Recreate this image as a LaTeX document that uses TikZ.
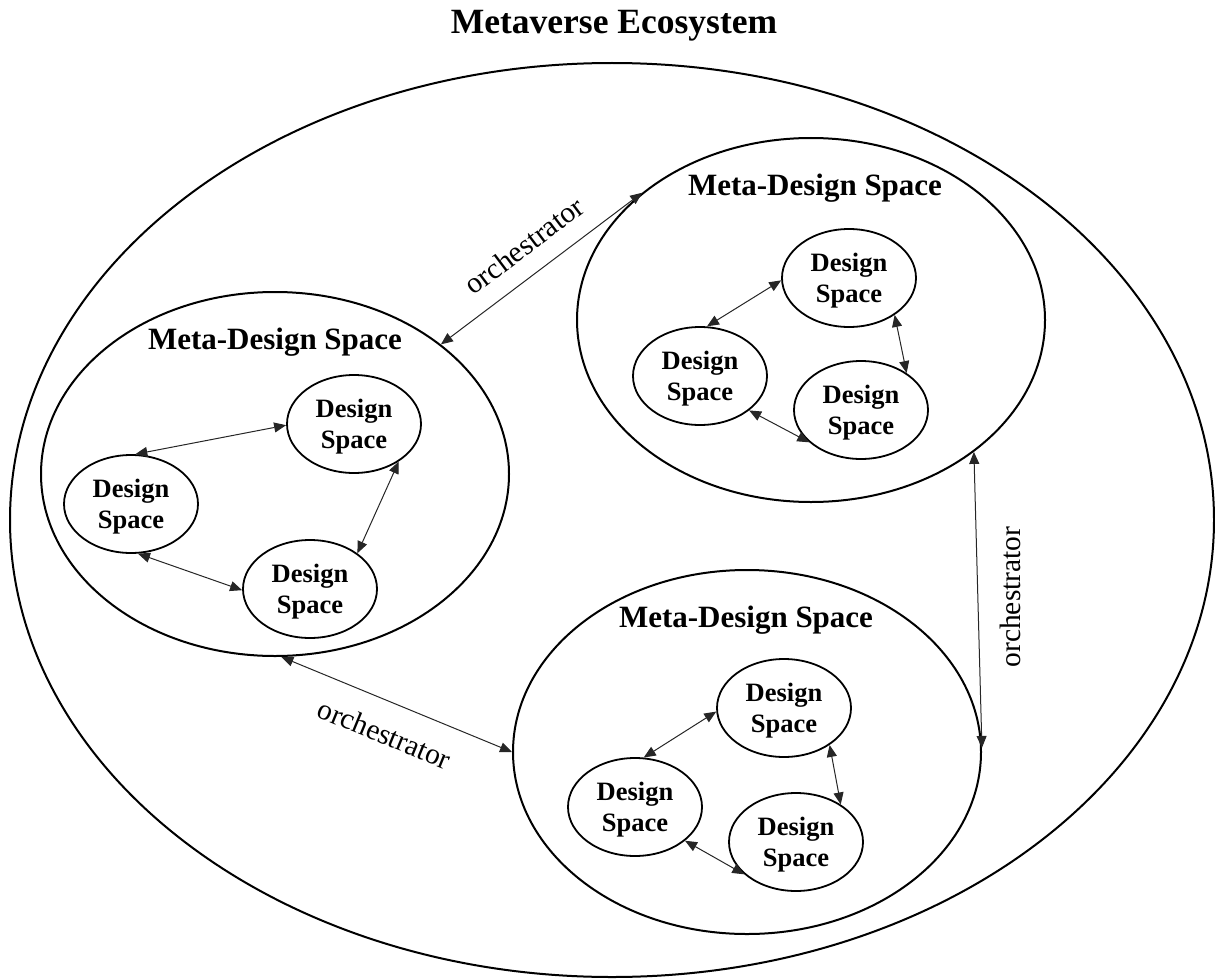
\documentclass[tikz,border=0pt]{standalone}
\usepackage{fontspec}
\setmainfont{Liberation Serif}
\usetikzlibrary{arrows.meta,shapes.geometric}

\begin{document}
\begin{tikzpicture}[x=1pt,y=-1pt,
  ring/.style={draw, line width=2pt, ellipse, inner sep=0pt},
  meta/.style={ring, minimum width=468pt, minimum height=364pt},
  ds/.style={ring, line width=1.8pt, minimum width=134pt, minimum height=98pt},
  dstext/.style={font=\fontsize{26.5}{31}\selectfont\bfseries, align=center, yshift=-3pt, inner sep=0pt},
  metatitle/.style={font=\fontsize{31}{36}\selectfont\bfseries, anchor=base, inner sep=0pt},
  link/.style={line width=1pt, draw=black!85, {Triangle[length=12pt,width=10pt]}-{Triangle[length=12pt,width=10pt]}},
  orch/.style={font=\fontsize{29.5}{34}\selectfont, inner sep=0pt}
]
\useasboundingbox (0,0) rectangle (1215,979);

% ecosystem
\node[metatitle, font=\fontsize{35.5}{40}\selectfont\bfseries] (title) at (614,34) {Metaverse Ecosystem};
\node[ring, minimum width=1204pt, minimum height=914pt] (eco) at (612,520) {};

% three meta-design spaces
\node[meta] (mL) at (275,474) {};
\node[meta] (mT) at (811,320) {};
\node[meta] (mB) at (747,752) {};
\node[metatitle] (tL) at (275,349) {Meta-Design Space};
\node[metatitle] (tT) at (815,195) {Meta-Design Space};
\node[metatitle] (tB) at (746,627) {Meta-Design Space};

% design spaces, left group
\node[ds, label={[dstext]center:Design\\Space}] (l1) at (131,504) {};
\node[ds, label={[dstext]center:Design\\Space}] (l2) at (354,424) {};
\node[ds, label={[dstext]center:Design\\Space}] (l3) at (310,589) {};
\draw[link] (l1.85) -- (l2.181);
\draw[link] (l2.320) -- (l3.37);
\draw[link] (l1.278) -- (l3.181);

% design spaces, upper right group
\node[ds, label={[dstext]center:Design\\Space}] (t1) at (700,376) {};
\node[ds, label={[dstext]center:Design\\Space}] (t2) at (849,278) {};
\node[ds, label={[dstext]center:Design\\Space}] (t3) at (861,410) {};
\draw[link] (t1.82) -- (t2.182);
\draw[link] (t2.321) -- (t3.39);
\draw[link] (t1.325) -- (t3.212);

% design spaces, lower right group
\node[ds, label={[dstext]center:Design\\Space}] (b1) at (635,807) {};
\node[ds, label={[dstext]center:Design\\Space}] (b2) at (784,708) {};
\node[ds, label={[dstext]center:Design\\Space}] (b3) at (796,842) {};
\draw[link] (b1.80) -- (b2.183);
\draw[link] (b2.321) -- (b3.40);
\draw[link] (b1.326) -- (b3.212);

% orchestrators between meta-design spaces
\draw[link] (mL.38) -- node[orch, sloped, above=18pt] (o1) {orchestrator} (mT.143);
\draw[link] (mL.272) -- node[orch, sloped, below=21pt] (o2) {orchestrator} (mB.180);
\draw[link] (mT.321.5) -- (mB.1);
\node[orch, rotate=90] (o3) at (1010,597) {orchestrator};
\end{tikzpicture}
\end{document}
